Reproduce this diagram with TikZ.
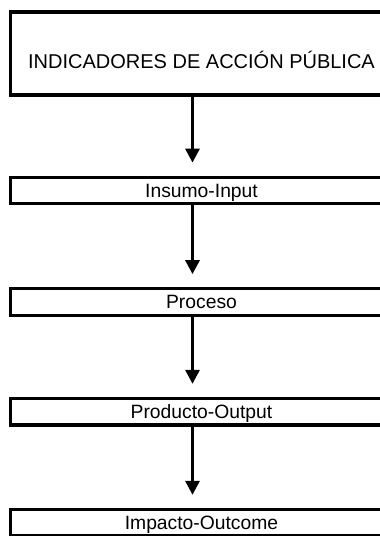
\documentclass[tikz,border=0pt]{standalone}
\usepackage{fontspec}
\setmainfont{Liberation Sans}
\usetikzlibrary{arrows.meta,positioning}

\begin{document}
\begin{tikzpicture}[x=1pt, y=1pt,
    box/.style={rectangle, draw, line width=3.2pt, minimum width=382pt, minimum height=26.5pt, inner sep=0pt,
        font=\fontsize{19.3}{23}\selectfont, text height=13.8pt, text depth=0pt},
    arrow/.style={-{Triangle[length=14pt,width=14pt]}, line width=3pt, shorten >=13pt}
]
\fill[white] (0,0) rectangle (380,536);
\useasboundingbox (0,0) rectangle (380,536);
\clip (0,0) rectangle (380,536);

\node[box, minimum height=83pt, font=\fontsize{20}{24}\selectfont, text height=31pt] (ind) at (201.5,482.5) {INDICADORES DE ACCIÓN PÚBLICA};
\node[box] (insumo) at (201.5,345.5) {Insumo-Input};
\node[box] (proceso) at (201.5,234) {Proceso};
\node[box] (producto) at (201.5,124.3) {Producto-Output};
\node[box] (impacto) at (201.5,13.3) {Impacto-Outcome};

\coordinate (ax) at (192.5,0);
\draw[arrow] (ind.south -| ax) -- (insumo.north -| ax);
\draw[arrow] (insumo.south -| ax) -- (proceso.north -| ax);
\draw[arrow] (proceso.south -| ax) -- (producto.north -| ax);
\draw[arrow] (producto.south -| ax) -- (impacto.north -| ax);
\end{tikzpicture}
\end{document}
